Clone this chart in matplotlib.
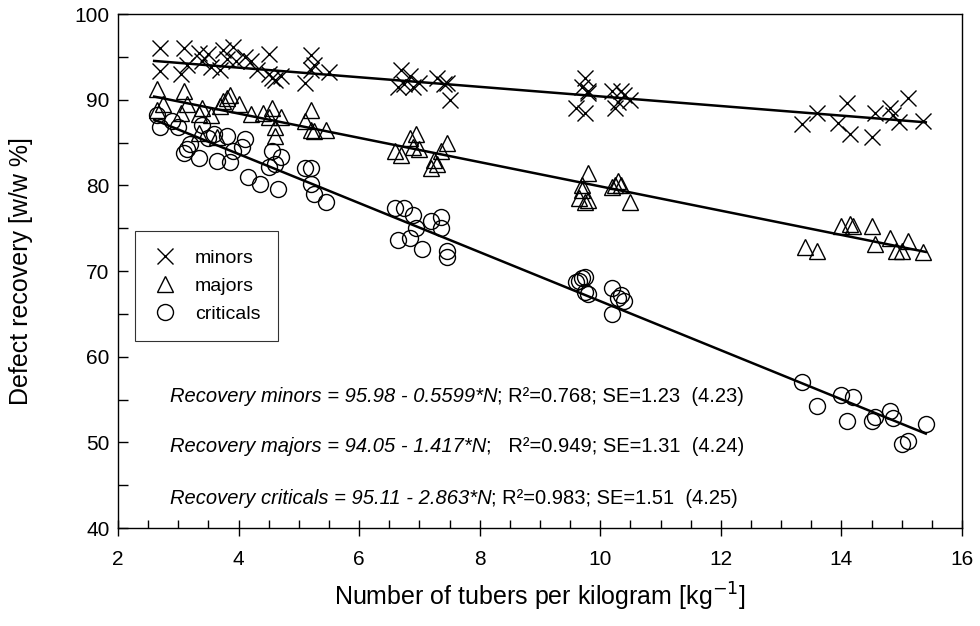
import matplotlib
matplotlib.use("Agg")
import matplotlib.pyplot as plt
import numpy as np

plt.rcParams['font.family'] = ['Liberation Sans', 'DejaVu Sans']

# Minor defects recovery
minors_x = [2.7, 3.1, 3.35, 3.5, 3.75, 3.9, 4.1, 4.5, 5.2,
            2.7, 3.05, 3.15, 3.4, 3.55, 3.7, 3.8, 3.95, 4.2, 4.3, 4.55, 4.6, 4.5, 4.7,
            5.1, 5.2, 5.5, 5.25,
            6.7, 6.65, 6.85, 6.9, 7.0, 7.3, 7.4, 7.5, 7.45, 6.75,
            9.7, 9.75, 9.8, 9.6, 9.75, 9.8, 10.2, 10.3, 10.4, 10.25, 10.5, 10.35,
            13.35, 13.6, 13.95, 14.1, 14.15, 14.5, 14.55, 14.8, 14.85, 14.95, 15.1, 15.35]
minors_y = [96.0, 96.0, 95.5, 95.3, 95.8, 96.2, 95.0, 95.3, 95.2,
            93.3, 93.0, 94.0, 94.5, 93.8, 93.5, 94.7, 94.5, 94.5, 93.5, 92.5, 92.3, 93.0, 92.8,
            92.0, 93.5, 93.2, 94.0,
            93.5, 91.5, 92.8, 91.5, 92.0, 92.5, 91.8, 90.0, 92.0, 91.8,
            91.5, 92.5, 91.0, 89.0, 88.5, 90.8, 91.0, 89.7, 90.5, 89.0, 90.0, 91.0,
            87.2, 88.4, 87.3, 89.6, 86.0, 85.7, 88.4, 89.0, 88.2, 87.4, 90.2, 87.5]

# Major defects recovery
majors_x = [2.65, 2.65, 2.75, 3.1, 3.15, 3.05, 3.4, 3.35, 3.55, 3.7, 3.8, 3.85, 3.75,
            4.0, 4.2, 4.4, 4.55, 4.5, 4.6, 4.6, 4.7, 5.1, 5.2, 5.2, 5.25, 5.45, 3.35, 3.65,
            6.6, 6.7, 6.85, 6.9, 6.95, 7.0, 7.2, 7.25, 7.35, 7.45, 7.3,
            9.7, 9.8, 9.65, 9.75, 9.7, 9.8, 10.2, 10.3, 10.35, 10.5, 10.25,
            13.4, 13.6, 14.0, 14.15, 14.2, 14.5, 14.55, 14.8, 14.9, 15.0, 15.1, 15.35]
majors_y = [91.2, 88.8, 89.5, 91.0, 89.5, 88.5, 89.0, 88.3, 88.2, 89.3, 90.2, 90.5, 89.8,
            89.5, 88.3, 88.5, 89.0, 88.0, 85.8, 86.8, 88.0, 87.5, 88.8, 86.5, 86.3, 86.5, 86.1, 85.7,
            84.0, 83.5, 85.5, 84.5, 86.0, 84.3, 82.0, 83.0, 84.0, 85.0, 82.5,
            80.0, 81.5, 78.5, 78.0, 79.5, 78.3, 79.8, 80.5, 80.0, 78.0, 80.0,
            72.8, 72.3, 75.2, 75.5, 75.3, 75.2, 73.2, 73.8, 72.3, 72.3, 73.5, 72.2]

# Critical defects recovery
criticals_x = [2.65, 2.7, 2.9, 3.0, 3.1, 3.15, 3.2, 3.35, 3.4, 3.5, 3.6, 3.65, 3.8, 3.85,
               3.9, 4.05, 4.15, 4.35, 4.5, 4.55, 4.6, 4.7, 4.65, 5.1, 5.2, 5.25, 5.2, 5.45, 4.1,
               6.6, 6.75, 6.65, 6.85, 6.9, 7.05, 7.2, 7.35, 7.35, 7.45, 7.45, 6.95,
               9.6, 9.7, 9.75, 9.65, 9.8, 9.75, 10.2, 10.2, 10.35, 10.4, 10.3,
               13.35, 13.6, 14.0, 14.1, 14.2, 14.5, 14.55, 14.8, 14.85, 15.0, 15.1, 15.4]
criticals_y = [88.2, 86.8, 87.5, 86.8, 83.8, 84.2, 84.8, 83.2, 87.0, 85.5, 86.0, 82.8, 85.8, 82.7,
               84.0, 84.5, 81.0, 80.2, 82.2, 84.0, 82.5, 83.3, 79.6, 82.0, 80.2, 79.0, 82.0, 78.0, 85.4,
               77.3, 77.4, 73.6, 73.8, 76.5, 72.6, 75.8, 76.3, 75.0, 71.6, 72.3, 75.0,
               68.7, 69.2, 69.3, 68.8, 67.3, 67.6, 68.0, 65.0, 67.2, 66.5, 66.8,
               57.0, 54.3, 55.5, 52.5, 55.3, 52.5, 53.0, 53.7, 52.8, 49.8, 50.2, 52.2]

# Regression coefficients (intercept, slope)
fit_minors = (95.98, -0.5599)
fit_majors = (94.05, -1.417)
fit_criticals = (95.11, -2.863)
fit_range = (2.6, 15.4)

equations = [
    ("Recovery minors = 95.98 - 0.5599*N", "; R\u00b2=0.768; SE=1.23  (4.23)", 55.4),
    ("Recovery majors = 94.05 - 1.417*N", ";   R\u00b2=0.949; SE=1.31  (4.24)", 49.5),
    ("Recovery criticals = 95.11 - 2.863*N", "; R\u00b2=0.983; SE=1.51  (4.25)", 43.5),
]

fig = plt.figure(figsize=(9.8, 6.26), dpi=100)
ax = fig.add_axes([0.1204, 0.1565, 0.8612, 0.8211])

ax.plot(minors_x, minors_y, linestyle='none', marker='x', ms=12, mew=1.0,
        color='black', label='minors')
ax.plot(majors_x, majors_y, linestyle='none', marker='^', ms=11.5, mew=1.0,
        mfc='none', mec='black', label='majors')
ax.plot(criticals_x, criticals_y, linestyle='none', marker='o', ms=11.5, mew=1.0,
        mfc='none', mec='black', label='criticals')

xs = np.array(fit_range)
for b0, b1 in (fit_minors, fit_majors, fit_criticals):
    ax.plot(xs, b0 + b1 * xs, color='black', lw=1.8)

ax.set_xlim(2, 16)
ax.set_ylim(40, 100)
ax.set_xticks(np.arange(2, 17, 2))
ax.set_xticks(np.arange(2, 16.01, 0.5), minor=True)
ax.set_yticks(np.arange(40, 101, 10))
ax.set_yticks(np.arange(40, 100.1, 5), minor=True)
ax.tick_params(axis='x', which='major', direction='inout', length=12, width=1,
               labelsize=15, pad=10)
ax.tick_params(axis='x', which='minor', direction='in', length=6, width=1)
ax.tick_params(axis='y', which='both', direction='in', length=7, width=1,
               labelsize=15, pad=6)
for s in ax.spines.values():
    s.set_linewidth(1.0)

ax.set_xlabel("Number of tubers per kilogram [kg$^{-1}$]", fontsize=18, labelpad=8)
ax.set_ylabel("Defect recovery [w/w %]", fontsize=18, labelpad=30)

leg = ax.legend(loc='upper left', bbox_to_anchor=(0.02, 0.577), borderaxespad=0,
                frameon=True, fancybox=False, edgecolor='black', fontsize=14,
                labelspacing=0.55, handletextpad=0.9, borderpad=0.9, handlelength=1.3)
leg.get_frame().set_linewidth(0.8)

for italic, rest, yv in equations:
    t1 = ax.text(2.86, yv, italic, fontsize=14.5, style='italic', va='center')
    ax.annotate(rest, xy=(1, 0), xycoords=t1, va='bottom', ha='left', fontsize=14.5)

fig.savefig("out.png", dpi=100)
